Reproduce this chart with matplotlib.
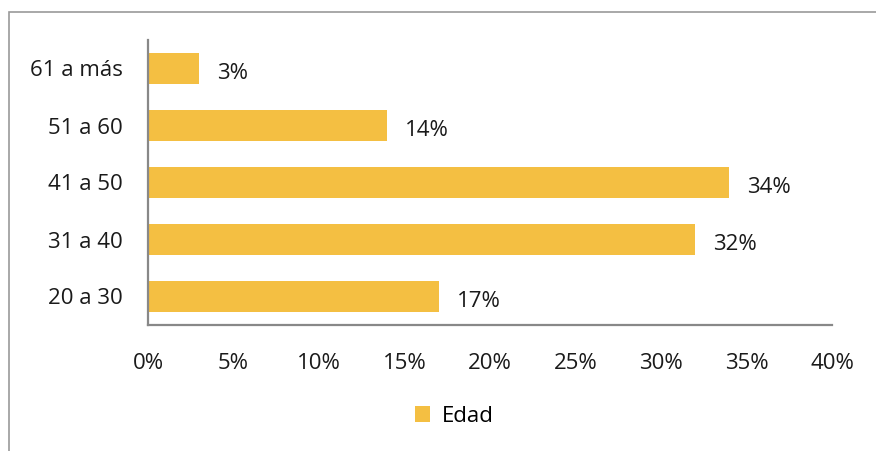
import matplotlib.pyplot as plt
from matplotlib.patches import Rectangle

# age groups (bottom to top) and their share of respondents
grupos = ["20 a 30", "31 a 40", "41 a 50", "51 a 60", "61 a más"]
porcentajes = [17, 32, 34, 14, 3]
ticks_x = [0, 5, 10, 15, 20, 25, 30, 35, 40]

color_barra = "#F4BF42"
color_eje = "#888888"
color_texto = "#1a1a1a"
tam = 16

plt.rcParams["font.family"] = ["Open Sans", "DejaVu Sans"]

fig = plt.figure(figsize=(8.76, 4.51), dpi=100)
ax = fig.add_axes([148 / 876, 1 - 325 / 451, (832 - 148) / 876, 285 / 451])

y = range(len(grupos))
ax.barh(y, porcentajes, height=0.56, color=color_barra, label="Edad")

for yi, v in zip(y, porcentajes):
    ax.text(v + 1.05, yi - 0.09, f"{v}%", va="center", ha="left",
            fontsize=tam, color=color_texto)

ax.set_xlim(0, 40)
ax.set_ylim(-0.5, 4.5)
ax.set_yticks(list(y))
ax.set_yticklabels(grupos, fontsize=tam, color=color_texto)
ax.set_xticks(ticks_x)
ax.set_xticklabels([f"{t}%" for t in ticks_x], fontsize=tam, color=color_texto)
ax.tick_params(axis="y", length=0, pad=18)
ax.tick_params(axis="x", length=0, pad=20)

for lado in ["top", "right"]:
    ax.spines[lado].set_visible(False)
for lado in ["left", "bottom"]:
    ax.spines[lado].set_color(color_eje)
    ax.spines[lado].set_linewidth(1.6)

ax.legend(loc="center", bbox_to_anchor=(454 / 876, 1 - 416 / 451),
          bbox_transform=fig.transFigure, frameon=False, fontsize=tam,
          handlelength=0.7, handleheight=0.7, handletextpad=0.5)

# outer chart frame
fig.patches.append(Rectangle((9 / 876, -0.1), 1.2, 1 - 12 / 451 + 0.1,
                             transform=fig.transFigure, fill=False,
                             edgecolor="#9a9a9a", linewidth=1.2))

fig.savefig("out.png", dpi=100)
